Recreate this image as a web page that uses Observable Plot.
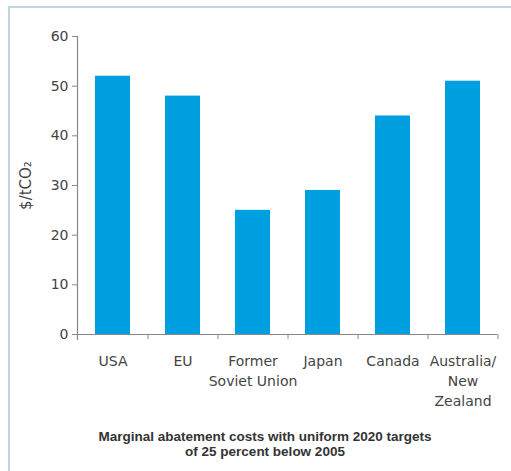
<!DOCTYPE html>
<html>
<head>
<meta charset="utf-8">
<script src="https://cdn.jsdelivr.net/npm/d3@7"></script>
<script src="https://cdn.jsdelivr.net/npm/@observablehq/plot@0.6"></script>
<style>
  html, body { margin: 0; padding: 0; background: #fff; }
  #wrap { position: relative; width: 511px; height: 471px; overflow: hidden; }
  #frameTop { position: absolute; left: 8px; top: 6px; width: 503px; height: 2px; background: #bcd7de; }
  #frameLeft { position: absolute; left: 8px; top: 6px; width: 2px; height: 465px; background: #bcd7de; }
  #chart { position: absolute; left: 0; top: 0; }
  #caption { position: absolute; left: 0; top: 429px; width: 530px; text-align: center;
    font-family: "Liberation Sans", Arial, sans-serif; font-weight: bold; font-size: 13.5px;
    line-height: 15px; color: #333; }
</style>
</head>
<body>
<div id="wrap">
  <div id="frameTop"></div>
  <div id="frameLeft"></div>
  <div id="chart"></div>
  <div id="caption">Marginal abatement costs with uniform 2020 targets<br>of 25 percent below 2005</div>
</div>
<script>
const regions = ["USA", "EU", "Former\nSoviet Union", "Japan", "Canada", "Australia/\nNew\nZealand"];
const costs = [52, 48, 25, 29, 44, 51];
const yTicks = [0, 10, 20, 30, 40, 50, 60];
const yLabel = "$/tCO₂";

const data = regions.map((r, i) => ({region: r, cost: costs[i]}));

const W = 511, H = 420, mL = 77, mR = 14, mT = 36, mB = 86;
const step = (W - mL - mR) / regions.length;
const font = "DejaVu Sans, sans-serif";

const chart = Plot.plot({
  width: W,
  height: H,
  marginLeft: mL,
  marginRight: mR,
  marginTop: mT,
  marginBottom: mB,
  style: {fontFamily: font, fontSize: "14px", color: "#444", background: "transparent"},
  x: {domain: regions, paddingInner: 0.5, paddingOuter: 0.25},
  y: {domain: [0, 60]},
  marks: [
    Plot.barY(data, {x: "region", y: "cost", fill: "#009fe0"}),
    Plot.ruleY([0], {stroke: "#888", strokeWidth: 1.2}),
    Plot.frame({anchor: "left", stroke: "#888", strokeWidth: 1.2, insetBottom: -5}),
    Plot.axisY({ticks: yTicks, tickSize: 5, tickPadding: 4, stroke: "#888", fontSize: 14,
      label: null, fill: "#444"}),
    Plot.axisY({ticks: [], tickSize: 0, label: yLabel, labelArrow: "none", labelAnchor: "center",
      labelOffset: 57, fontSize: 15, fill: "#444"}),
    Plot.axisX({tickSize: 5, text: null, dx: step / 2, stroke: "#888", label: null}),
    Plot.axisX({tickSize: 0, tickPadding: 18, fontSize: 14, lineHeight: 1.4, fill: "#444", label: null})
  ]
});
document.getElementById("chart").appendChild(chart);
</script>
</body>
</html>
